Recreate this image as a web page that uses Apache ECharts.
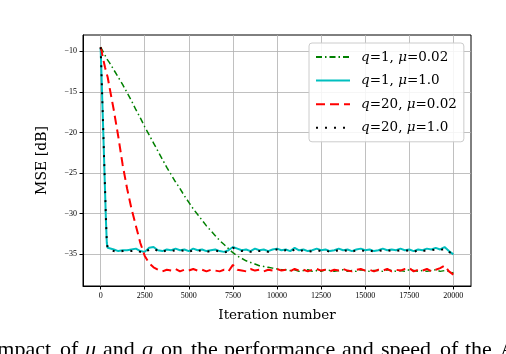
<!DOCTYPE html>
<html>
<head>
<meta charset="utf-8">
<script src="https://cdn.jsdelivr.net/npm/echarts@6/dist/echarts.min.js"></script>
<style>
  html, body { margin: 0; padding: 0; background: #fff; }
  #chart { width: 506px; height: 354px; }
</style>
</head>
<body>
<div id="chart"></div>
<script>
// iteration index shared by all four curves
const iterations = [
  0, 50, 100, 150, 200, 250, 300, 350, 400, 500,
  750, 1000, 1250, 1500, 1750, 2000, 2250, 2500, 2750, 3000,
  3250, 3500, 3750, 4000, 4250, 4500, 4750, 5000, 5250, 5500,
  5750, 6000, 6250, 6500, 6750, 7000, 7250, 7500, 7750, 8000,
  8250, 8500, 8750, 9000, 9250, 9500, 9750, 10000, 10250, 10500,
  10750, 11000, 11250, 11500, 11750, 12000, 12250, 12500, 12750, 13000,
  13250, 13500, 13750, 14000, 14250, 14500, 14750, 15000, 15250, 15500,
  15750, 16000, 16250, 16500, 16750, 17000, 17250, 17500, 17750, 18000,
  18250, 18500, 18750, 19000, 19250, 19500, 19750, 20000
];

// q=1, mu=0.02
const mseQ1Mu002 = [
  -9.5, -9.7, -9.9, -10.1, -10.3, -10.5, -10.7, -10.9, -11.1, -11.4,
  -12.3, -13.2, -14.1, -15.1, -16.1, -17.2, -18.2, -19.3, -20.3, -21.3,
  -22.3, -23.3, -24.3, -25.2, -26.1, -26.9, -27.8, -28.6, -29.4, -30.1,
  -30.8, -31.5, -32.1, -32.7, -33.3, -33.8, -34.3, -34.8, -35.2, -35.5,
  -35.8, -36.0, -36.2, -36.4, -36.5, -36.6, -36.7, -36.8, -36.9, -36.9,
  -37.0, -36.9, -37.1, -37.0, -36.9, -37.1, -37.0, -37.1, -36.9, -37.0,
  -37.1, -37.0, -36.9, -37.1, -37.0, -37.1, -36.9, -37.0, -37.1, -37.0,
  -37.0, -37.1, -36.9, -37.0, -37.1, -37.0, -37.1, -36.9, -37.0, -37.1,
  -37.0, -37.1, -37.0, -36.9, -37.1, -37.0, -37.1, -37.3
];

// q=1, mu=1.0
const mseQ1Mu1 = [
  -9.6, -13.0, -16.5, -20.0, -23.6, -27.2, -30.8, -33.6, -34.2, -34.3,
  -34.4, -34.6, -34.5, -34.5, -34.4, -34.3, -34.6, -34.7, -34.2, -34.1,
  -34.5, -34.6, -34.4, -34.5, -34.3, -34.5, -34.4, -34.6, -34.3, -34.5,
  -34.4, -34.6, -34.5, -34.4, -34.6, -34.7, -34.5, -34.1, -34.3, -34.5,
  -34.4, -34.6, -34.3, -34.5, -34.4, -34.6, -34.4, -34.3, -34.5, -34.4,
  -34.6, -34.2, -34.5, -34.4, -34.6, -34.5, -34.3, -34.5, -34.4, -34.6,
  -34.5, -34.3, -34.5, -34.4, -34.6, -34.4, -34.3, -34.5, -34.4, -34.6,
  -34.5, -34.3, -34.5, -34.4, -34.5, -34.3, -34.5, -34.4, -34.6, -34.4,
  -34.5, -34.3, -34.4, -34.2, -34.4, -34.1, -34.6, -35.0
];

// q=20, mu=0.02
const mseQ20Mu002 = [
  -9.5, -9.9, -10.5, -11.0, -11.5, -12.0, -12.4, -12.8, -13.2, -14.4,
  -17.3, -20.5, -24.0, -26.9, -29.4, -31.5, -33.6, -35.2, -36.1, -36.6,
  -36.9, -37.1, -36.9, -37.0, -36.8, -37.1, -36.9, -37.0, -36.8, -37.0,
  -36.9, -37.1, -36.9, -37.0, -37.1, -36.9, -37.1, -36.3, -36.9, -37.0,
  -37.1, -36.8, -37.0, -36.9, -37.1, -36.9, -37.0, -36.8, -37.0, -36.9,
  -37.1, -36.8, -37.0, -36.9, -37.1, -36.9, -36.8, -37.0, -36.9, -37.1,
  -36.9, -37.0, -36.8, -37.0, -37.1, -36.9, -36.8, -37.0, -36.9, -37.1,
  -36.9, -37.0, -36.8, -37.1, -36.9, -37.0, -36.8, -36.7, -37.1, -36.9,
  -37.0, -36.8, -37.1, -36.9, -36.7, -36.4, -37.1, -37.5
];

// q=20, mu=1.0
const mseQ20Mu1 = [
  -9.5, -12.8, -16.3, -19.9, -23.5, -27.0, -30.6, -33.5, -34.3, -34.5,
  -34.6, -34.7, -34.6, -34.5, -34.6, -34.5, -34.7, -34.8, -34.4, -34.3,
  -34.6, -34.7, -34.5, -34.6, -34.5, -34.6, -34.5, -34.7, -34.5, -34.6,
  -34.5, -34.7, -34.6, -34.5, -34.7, -34.8, -34.6, -34.2, -34.4, -34.6,
  -34.5, -34.7, -34.5, -34.6, -34.5, -34.7, -34.5, -34.4, -34.6, -34.5,
  -34.7, -34.4, -34.6, -34.5, -34.7, -34.6, -34.5, -34.6, -34.5, -34.7,
  -34.6, -34.5, -34.6, -34.5, -34.7, -34.5, -34.5, -34.6, -34.5, -34.7,
  -34.6, -34.5, -34.6, -34.5, -34.6, -34.5, -34.6, -34.5, -34.7, -34.5,
  -34.6, -34.5, -34.5, -34.4, -34.5, -34.3, -34.7, -35.0
];

const xTicks = [0, 2500, 5000, 7500, 10000, 12500, 15000, 17500, 20000];
const yTicks = [-35, -30, -25, -20, -15, -10];
const seriesNames = ['q=1, μ=0.02', 'q=1, μ=1.0', 'q=20, μ=0.02', 'q=20, μ=1.0'];

// caption line under the figure (justified, cut by the crop)
const captionWords = ['Impact', 'of', 'μ', 'and', 'q', 'on', 'the', 'performance', 'and', 'speed', 'of', 'the', 'APA'];
const captionItalic = [false, false, true, false, true, false, false, false, false, false, false, false, false];
const captionLeft = [-10, 60, 85, 103, 142, 161, 191, 224, 342, 381, 440, 465, 500];

const textFont = 'DejaVu Serif';
const tickFont = 'Liberation Serif';
const gridColor = '#b0b0b0';

const pairs = (ys) => iterations.map((x, i) => [x, ys[i]]);
const minus = (v) => (v < 0 ? '\u2212' + Math.abs(v) : String(v));
// italic q and mu, like the math text in the original
const mathName = (s) => s.replace('q', '{i|q}').replace('μ', '{i|μ}');

const chart = echarts.init(document.getElementById('chart'), null, { renderer: 'canvas' });

const option = {
  animation: false,
  backgroundColor: '#fff',
  grid: {
    left: 83, right: 35, top: 35, bottom: 68,
    show: true, borderColor: '#000', borderWidth: 1
  },
  xAxis: {
    type: 'value',
    min: -1000,
    max: 21000,
    name: 'Iteration number',
    nameLocation: 'middle',
    nameGap: 22,
    nameTextStyle: { fontFamily: textFont, fontSize: 13.5, color: '#000' },
    axisLine: { onZero: false, lineStyle: { color: '#000', width: 1 } },
    axisTick: { customValues: xTicks, length: 3.5, lineStyle: { color: '#000' } },
    axisLabel: {
      customValues: xTicks, formatter: minus, margin: 6,
      fontFamily: tickFont, fontSize: 8, color: '#000'
    },
    splitLine: { show: true, lineStyle: { color: gridColor, width: 0.8 } }
  },
  yAxis: {
    type: 'value',
    min: -38.9,
    max: -8.0,
    name: 'MSE [dB]',
    nameLocation: 'middle',
    nameGap: 34,
    nameTextStyle: { fontFamily: textFont, fontSize: 14, color: '#000' },
    axisLine: { show: true, onZero: false, lineStyle: { color: '#000', width: 1 } },
    axisTick: { show: true, customValues: yTicks, length: 3.5, lineStyle: { color: '#000' } },
    axisLabel: {
      customValues: yTicks, formatter: minus, margin: 6,
      fontFamily: tickFont, fontSize: 8, color: '#000'
    },
    splitLine: { show: true, lineStyle: { color: gridColor, width: 0.8 } }
  },
  legend: {
    orient: 'vertical',
    left: 309,
    top: 43,
    padding: [7, 7, 7, 6],
    itemWidth: 34,
    itemHeight: 14,
    itemGap: 9.6,
    // line only, no marker in the legend keys
    itemStyle: { opacity: 0 },
    backgroundColor: 'rgba(255,255,255,0.85)',
    borderColor: '#cccccc',
    borderWidth: 1,
    borderRadius: 3,
    formatter: mathName,
    textStyle: {
      fontFamily: textFont, fontSize: 13.5, color: '#000', padding: [0, 0, 0, 6],
      rich: { i: { fontFamily: textFont, fontSize: 13.5, fontStyle: 'italic', color: '#000' } }
    }
  },
  series: [
    {
      name: seriesNames[0], type: 'line', symbol: 'none', color: '#008000',
      lineStyle: { color: '#008000', width: 1.5, type: [6, 3, 1.5, 3] },
      data: pairs(mseQ1Mu002)
    },
    {
      name: seriesNames[1], type: 'line', symbol: 'none', color: '#00bfbf',
      lineStyle: { color: '#00bfbf', width: 2 },
      data: pairs(mseQ1Mu1)
    },
    {
      name: seriesNames[2], type: 'line', symbol: 'none', color: '#ff0000',
      lineStyle: { color: '#ff0000', width: 2, type: [9, 5] },
      data: pairs(mseQ20Mu002)
    },
    {
      name: seriesNames[3], type: 'line', symbol: 'none', color: '#000000',
      lineStyle: { color: '#000000', width: 2, type: [2, 7] },
      data: pairs(mseQ20Mu1)
    }
  ],
  graphic: captionWords.map((w, i) => ({
    type: 'text',
    left: captionLeft[i],
    top: 339,
    style: {
      text: w,
      fontFamily: tickFont,
      fontSize: 22,
      fontStyle: captionItalic[i] ? 'italic' : 'normal',
      fill: '#000'
    }
  }))
};

chart.setOption(option);
</script>
</body>
</html>
